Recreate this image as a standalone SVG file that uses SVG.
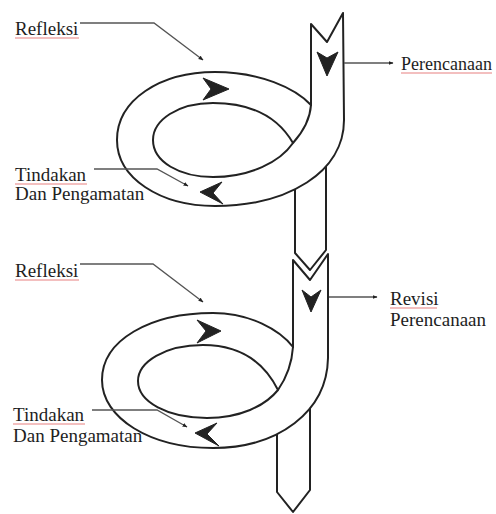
<svg xmlns="http://www.w3.org/2000/svg" width="496" height="514" viewBox="0 0 496 514">
<style>
.band{fill:#fff;stroke:#222;stroke-width:2;stroke-linejoin:round}
.edge{fill:none;stroke:#222;stroke-width:2}
.dart{fill:#222;stroke:#222;stroke-width:1;stroke-linejoin:round}
.lead{fill:none;stroke:#555;stroke-width:1.3}
.lbl{font-family:"Liberation Serif","Times New Roman",serif;font-size:19px;fill:#1e1e1e}
.sp{fill:none;stroke:#e05555;stroke-width:1.2;opacity:.75}
</style>
<defs>
<marker id="ah" viewBox="0 0 10 10" refX="9" refY="5" markerWidth="5" markerHeight="5" orient="auto" markerUnits="userSpaceOnUse">
<path d="M0,1 L10,5 L0,9 Z" fill="#222"/>
</marker>
</defs>

<g id="loop2">
<path class="band" d="M277,400 L277,492 L293,512 L310,490 L310,400 Z"/>
<path class="band" d="M328,254 L328,358 C327,412 278,448 213,448 C150,448 102,418 102,380 C102,340 150,313 213,313 C250,313 280,330 293,347 L293,260 L310,280 Z"/>
<path class="band" d="M278,390 C262,358 235,345 203,345 C165,345 138,362 138,381 C138,402 168,418 207,418 C240,418 265,406 278,390 Z"/>
<path class="edge" d="M293,347 C292,362 287,377 278,390"/>
<path class="dart" d="M302,290 L311,297 L321,290 L311,312 Z"/>
<path class="dart" d="M197,320 L221,331 L197,343 L206,331 Z"/>
<path class="dart" d="M195,433 L217,423 L207,434 L219,446 Z"/>
</g>

<g id="loop1">
<path class="band" d="M295,160 L295,253 L310,270 L326,250 L326,160 Z"/>
<path class="band" d="M343,13 L344,120 C344,172 288,206 215,206 C160,206 117,178 117,140 C117,100 160,72 215,72 C260,72 295,88 311,105 L311,24 L327,42 Z"/>
<path class="band" d="M293,143 C275,112 245,103 213,103 C178,103 153,120 153,140 C153,162 180,177 213,177 C250,177 280,162 293,143 Z"/>
<path class="edge" d="M311,105 C310,120 302,133 293,143"/>
<path class="dart" d="M317,52 L327,58 L338,52 L327,76 Z"/>
<path class="dart" d="M203,78 L229,89 L203,100 L211,89 Z"/>
<path class="dart" d="M200,192 L222,182 L213,193 L223,204 Z"/>
</g>

<g id="connectors">
<path class="lead" d="M80,23 L154,23 L203,60" marker-end="url(#ah)"/>
<path class="lead" d="M94,169 L157,169 L188,186" marker-end="url(#ah)"/>
<path class="lead" d="M80,264 L153,264 L203,302" marker-end="url(#ah)"/>
<path class="lead" d="M92,410 L157,410 L187,427" marker-end="url(#ah)"/>
<path class="lead" d="M344,63 L393,63" marker-end="url(#ah)"/>
<path class="lead" d="M329,297 L377,297" marker-end="url(#ah)"/>
</g>

<g id="label-refleksi1">
<text class="lbl" x="15" y="35">Refleksi</text>
<path class="sp" d="M15,38 L79,38"/>
</g>
<g id="label-tindakan1">
<text class="lbl" x="15" y="181">Tindakan</text>
<path class="sp" d="M15,184 L87,184"/>
<text class="lbl" x="15" y="200">Dan Pengamatan</text>
</g>
<g id="label-perencanaan1">
<text class="lbl" x="401" y="70" style="font-size:18px">Perencanaan</text>
<path class="sp" d="M401,73 L492,73"/>
</g>
<g id="label-refleksi2">
<text class="lbl" x="15" y="277">Refleksi</text>
<path class="sp" d="M15,280 L79,280"/>
</g>
<g id="label-revisi">
<text class="lbl" x="390" y="305">Revisi</text>
<path class="sp" d="M390,308 L437,308"/>
<text class="lbl" x="390" y="326">Perencanaan</text>
</g>
<g id="label-tindakan2">
<text class="lbl" x="13" y="421">Tindakan</text>
<path class="sp" d="M13,424 L85,424"/>
<text class="lbl" x="13" y="442">Dan Pengamatan</text>
</g>
</svg>
